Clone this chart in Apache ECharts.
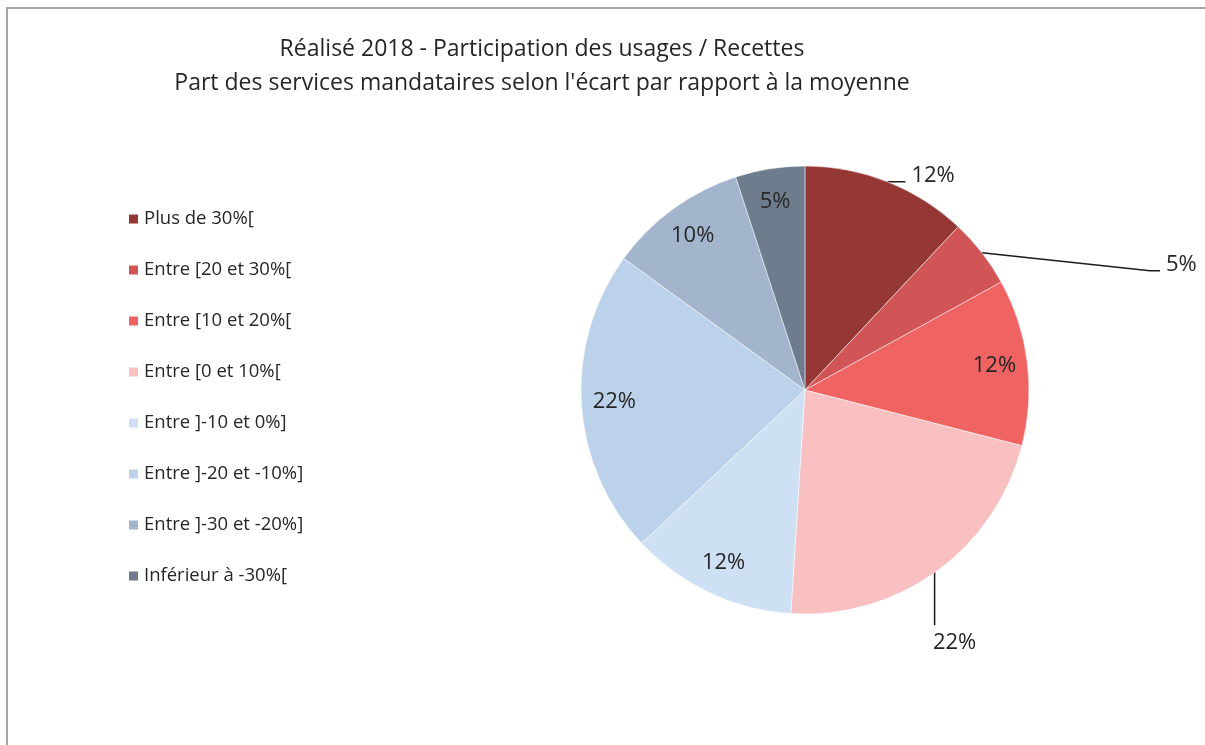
<!DOCTYPE html>
<html style="height: 100%">
  <head>
    <meta charset="utf-8" />
    <title>Réalisé 2018 - Participation des usages</title>
    <script src="https://cdn.jsdelivr.net/npm/echarts@6/dist/echarts.min.js"></script>
  </head>
  <body style="height: 100%; margin: 0; background: #fff">
    <div id="container" style="width: 1205px; height: 745px"></div>
    <script type="text/javascript">
      // categories (legend order = slice order, clockwise from 12 o'clock)
      const categories = [
        "Plus de 30%[",
        "Entre [20 et 30%[",
        "Entre [10 et 20%[",
        "Entre [0 et 10%[",
        "Entre ]-10 et 0%]",
        "Entre ]-20 et -10%]",
        "Entre ]-30 et -20%]",
        "Inférieur à -30%["
      ];
      const shares = [12, 5, 12, 22, 12, 22, 10, 5];
      const colors = ["#953735", "#d15456", "#ef6363", "#f8c0c1", "#cde0f4", "#bcd2eb", "#a3b5cd", "#6e7d8e"];
      // which labels sit outside the pie with a leader line
      const outsideIdx = [0, 1, 3];

      const font = "'Open Sans', 'Noto Sans', sans-serif";
      const textColor = "#262626";

      let mainData = categories.map((name, i) => ({
        name: name,
        value: shares[i],
        itemStyle: { color: colors[i] },
        label: { show: outsideIdx.includes(i) },
        labelLine: { show: outsideIdx.includes(i) }
      }));
      let labelData = categories.map((name, i) => ({
        name: name,
        value: shares[i],
        label: { show: !outsideIdx.includes(i) }
      }));

      let chart = echarts.init(document.getElementById("container"));
      chart.setOption({
        animation: false,
        graphic: [
          {
            type: "rect",
            shape: { x: 7, y: 8, width: 1400, height: 900 },
            style: { fill: "none", stroke: "#a6a6a6", lineWidth: 2 },
            silent: true
          }
        ],
        title: {
          text: "Réalisé 2018 - Participation des usages / Recettes\nPart des services mandataires selon l'écart par rapport à la moyenne",
          left: 537,
          top: 27,
          textAlign: "center",
          textStyle: { fontFamily: font, fontSize: 23, fontWeight: "normal", color: textColor, lineHeight: 34 }
        },
        legend: {
          orient: "vertical",
          left: 122,
          top: 204,
          icon: "rect",
          itemWidth: 11,
          itemHeight: 11,
          itemGap: 31,
          data: categories,
          textStyle: { fontFamily: font, fontSize: 18.5, color: textColor, lineHeight: 20 }
        },
        series: [
          {
            type: "pie",
            center: ["66.8%", "52.35%"],
            radius: 224,
            startAngle: 90,
            data: mainData,
            itemStyle: { borderColor: "#fff", borderWidth: 0.5 },
            label: {
              position: "outside",
              formatter: "{c}%",
              fontFamily: font,
              fontSize: 22,
              color: textColor
            },
            labelLine: { lineStyle: { color: "#1a1a1a", width: 1.5 } },
            labelLayout: function (p) {
              if (!p.labelLinePoints) return {};
              const a = p.labelLinePoints[0];
              if (p.dataIndex === 0) {
                return {
                  x: a[0] + 24, y: a[1] - 6, align: "left", verticalAlign: "middle",
                  labelLinePoints: [[a[0], a[1]], [a[0] + 9, a[1]], [a[0] + 18, a[1]]]
                };
              }
              if (p.dataIndex === 1) {
                return {
                  x: a[0] + 184, y: a[1] + 12, align: "left", verticalAlign: "middle",
                  labelLinePoints: [[a[0], a[1]], [a[0] + 168, a[1] + 18], [a[0] + 178, a[1] + 18]]
                };
              }
              if (p.dataIndex === 3) {
                return {
                  x: a[0] + 18, y: a[1] + 72, align: "center", verticalAlign: "middle",
                  labelLinePoints: [[a[0] - 2, a[1]], [a[0] - 2, a[1] + 25], [a[0] - 2, a[1] + 54]]
                };
              }
              return {};
            }
          },
          {
            // transparent ring used only to place the inside labels further out
            type: "pie",
            center: ["66.8%", "52.35%"],
            radius: [152, 224],
            startAngle: 90,
            silent: true,
            data: labelData,
            itemStyle: { color: "rgba(0,0,0,0)" },
            label: {
              position: "inside",
              formatter: "{c}%",
              fontFamily: font,
              fontSize: 22,
              color: textColor
            },
            labelLine: { show: false }
          }
        ]
      });
    </script>
  </body>
</html>
